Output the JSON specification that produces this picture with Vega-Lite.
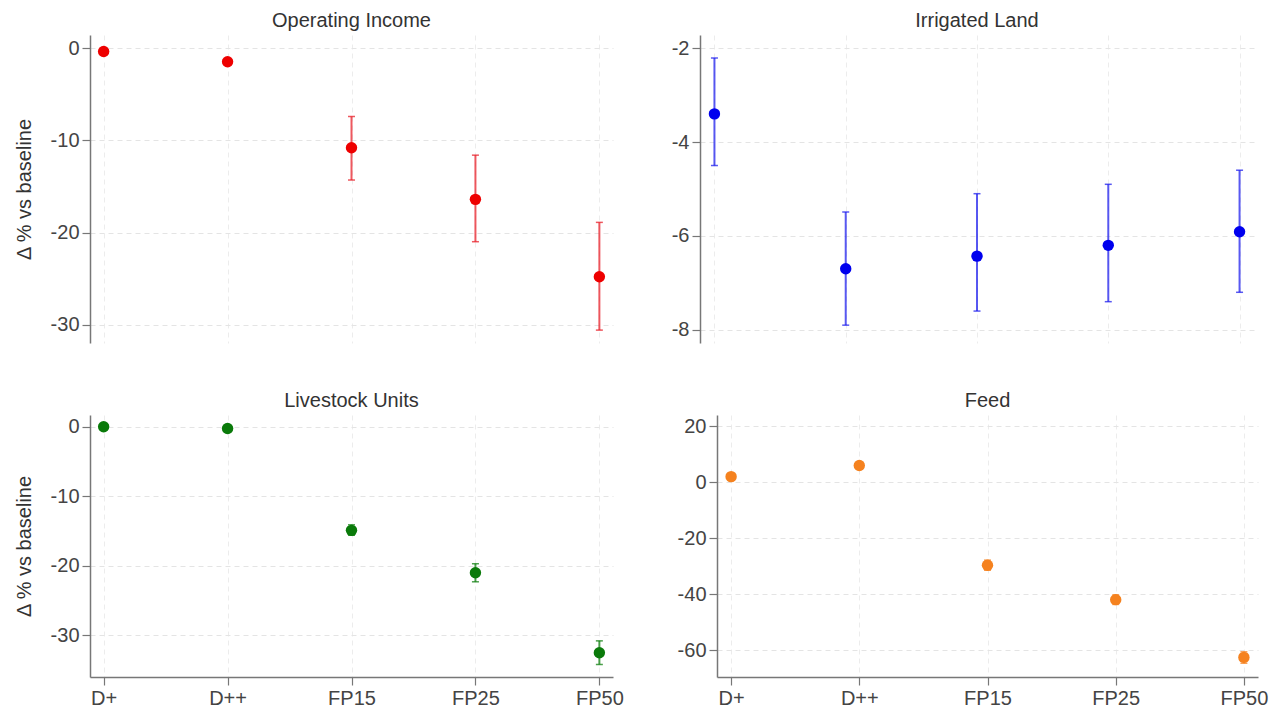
{
  "$schema": "https://vega.github.io/schema/vega-lite/v6.json",
  "padding": {"left": 14, "top": 11, "right": 5, "bottom": 5},
  "background": "white",
  "datasets": {
    "d": [
      {"panel": "Operating Income", "scenario": "D+", "value": -0.35, "lo": -0.45, "hi": -0.25},
      {"panel": "Operating Income", "scenario": "D++", "value": -1.45, "lo": -1.55, "hi": -1.35},
      {"panel": "Operating Income", "scenario": "FP15", "value": -10.8, "lo": -14.3, "hi": -7.4},
      {"panel": "Operating Income", "scenario": "FP25", "value": -16.4, "lo": -21.0, "hi": -11.6},
      {"panel": "Operating Income", "scenario": "FP50", "value": -24.8, "lo": -30.6, "hi": -18.9},
      {"panel": "Irrigated Land", "scenario": "D+", "value": -3.4, "lo": -4.5, "hi": -2.21},
      {"panel": "Irrigated Land", "scenario": "D++", "value": -6.7, "lo": -7.9, "hi": -5.49},
      {"panel": "Irrigated Land", "scenario": "FP15", "value": -6.43, "lo": -7.6, "hi": -5.1},
      {"panel": "Irrigated Land", "scenario": "FP25", "value": -6.2, "lo": -7.4, "hi": -4.9},
      {"panel": "Irrigated Land", "scenario": "FP50", "value": -5.91, "lo": -7.2, "hi": -4.6},
      {"panel": "Livestock Units", "scenario": "D+", "value": 0.0, "lo": -0.3, "hi": 0.3},
      {"panel": "Livestock Units", "scenario": "D++", "value": -0.24, "lo": -0.5, "hi": 0.0},
      {"panel": "Livestock Units", "scenario": "FP15", "value": -14.9, "lo": -15.6, "hi": -14.1},
      {"panel": "Livestock Units", "scenario": "FP25", "value": -21.0, "lo": -22.3, "hi": -19.7},
      {"panel": "Livestock Units", "scenario": "FP50", "value": -32.5, "lo": -34.2, "hi": -30.8},
      {"panel": "Feed", "scenario": "D+", "value": 2.0, "lo": 1.2, "hi": 2.8},
      {"panel": "Feed", "scenario": "D++", "value": 6.0, "lo": 5.0, "hi": 7.0},
      {"panel": "Feed", "scenario": "FP15", "value": -29.6, "lo": -31.4, "hi": -27.8},
      {"panel": "Feed", "scenario": "FP25", "value": -41.9, "lo": -43.6, "hi": -40.2},
      {"panel": "Feed", "scenario": "FP50", "value": -62.5, "lo": -64.6, "hi": -60.5}
    ]
  },
  "vconcat": [
    {
      "spacing": 58,
      "hconcat": [
        {
          "width": 523, "height": 308,
          "title": "Operating Income",
          "data": {"name": "d"},
          "transform": [{"filter": "datum.panel === 'Operating Income'"}],
          "encoding": {
            "x": {"field": "scenario", "type": "ordinal", "sort": ["D+", "D++", "FP15", "FP25", "FP50"], "scale": {"type": "point", "padding": 0.11},
                  "axis": {"title": null, "labels": false, "ticks": false, "domain": false, "grid": true}}
          },
          "layer": [
            {"mark": {"type": "rule", "color": "#e8202a", "opacity": 0.75, "strokeWidth": 2},
             "encoding": {"y": {"field": "lo", "type": "quantitative", "title": "Δ % vs baseline", "scale": {"domain": [-32, 1.45], "nice": false, "zero": false}, "axis": {"values": [0, -10, -20, -30], "titlePadding": 16}}, "y2": {"field": "hi"}}},
            {"mark": {"type": "tick", "orient": "horizontal", "size": 7, "thickness": 1.5, "color": "#e8202a", "opacity": 0.75},
             "encoding": {"y": {"field": "lo", "type": "quantitative", "title": "Δ % vs baseline"}}},
            {"mark": {"type": "tick", "orient": "horizontal", "size": 7, "thickness": 1.5, "color": "#e8202a", "opacity": 0.75},
             "encoding": {"y": {"field": "hi", "type": "quantitative", "title": "Δ % vs baseline"}}},
            {"mark": {"type": "point", "filled": true, "size": 130, "color": "#ee0000", "opacity": 1},
             "encoding": {"y": {"field": "value", "type": "quantitative", "title": "Δ % vs baseline"}}}
          ]
        },
        {
          "width": 554, "height": 308,
          "title": "Irrigated Land",
          "data": {"name": "d"},
          "transform": [{"filter": "datum.panel === 'Irrigated Land'"}],
          "encoding": {
            "x": {"field": "scenario", "type": "ordinal", "sort": ["D+", "D++", "FP15", "FP25", "FP50"], "scale": {"type": "point", "padding": 0.11},
                  "axis": {"title": null, "labels": false, "ticks": false, "domain": false, "grid": true}}
          },
          "layer": [
            {"mark": {"type": "rule", "color": "#2020ee", "opacity": 0.75, "strokeWidth": 2},
             "encoding": {"y": {"field": "lo", "type": "quantitative", "title": null, "scale": {"domain": [-8.28, -1.72], "nice": false, "zero": false}, "axis": {"values": [-2, -4, -6, -8]}}, "y2": {"field": "hi"}}},
            {"mark": {"type": "tick", "orient": "horizontal", "size": 7, "thickness": 1.5, "color": "#2020ee", "opacity": 0.75},
             "encoding": {"y": {"field": "lo", "type": "quantitative", "title": null}}},
            {"mark": {"type": "tick", "orient": "horizontal", "size": 7, "thickness": 1.5, "color": "#2020ee", "opacity": 0.75},
             "encoding": {"y": {"field": "hi", "type": "quantitative", "title": null}}},
            {"mark": {"type": "point", "filled": true, "size": 130, "color": "#0000ee", "opacity": 1},
             "encoding": {"y": {"field": "value", "type": "quantitative", "title": null}}}
          ]
        }
      ]
    },
    {
      "spacing": 53,
      "hconcat": [
        {
          "width": 523, "height": 262,
          "title": "Livestock Units",
          "data": {"name": "d"},
          "transform": [{"filter": "datum.panel === 'Livestock Units'"}],
          "encoding": {
            "x": {"field": "scenario", "type": "ordinal", "sort": ["D+", "D++", "FP15", "FP25", "FP50"], "scale": {"type": "point", "padding": 0.11},
                  "axis": {"title": null, "labelAngle": 0, "grid": true}}
          },
          "layer": [
            {"mark": {"type": "rule", "color": "#108010", "opacity": 0.75, "strokeWidth": 2},
             "encoding": {"y": {"field": "lo", "type": "quantitative", "title": "Δ % vs baseline", "scale": {"domain": [-36, 1.7], "nice": false, "zero": false}, "axis": {"values": [0, -10, -20, -30], "titlePadding": 16}}, "y2": {"field": "hi"}}},
            {"mark": {"type": "tick", "orient": "horizontal", "size": 7, "thickness": 1.5, "color": "#108010", "opacity": 0.75},
             "encoding": {"y": {"field": "lo", "type": "quantitative", "title": "Δ % vs baseline"}}},
            {"mark": {"type": "tick", "orient": "horizontal", "size": 7, "thickness": 1.5, "color": "#108010", "opacity": 0.75},
             "encoding": {"y": {"field": "hi", "type": "quantitative", "title": "Δ % vs baseline"}}},
            {"mark": {"type": "point", "filled": true, "size": 130, "color": "#0a7a0a", "opacity": 1},
             "encoding": {"y": {"field": "value", "type": "quantitative", "title": "Δ % vs baseline"}}}
          ]
        },
        {
          "width": 541, "height": 262,
          "title": "Feed",
          "data": {"name": "d"},
          "transform": [{"filter": "datum.panel === 'Feed'"}],
          "encoding": {
            "x": {"field": "scenario", "type": "ordinal", "sort": ["D+", "D++", "FP15", "FP25", "FP50"], "scale": {"type": "point", "padding": 0.11},
                  "axis": {"title": null, "labelAngle": 0, "grid": true}}
          },
          "layer": [
            {"mark": {"type": "rule", "color": "#f5821f", "opacity": 0.75, "strokeWidth": 2},
             "encoding": {"y": {"field": "lo", "type": "quantitative", "title": null, "scale": {"domain": [-69.5, 24], "nice": false, "zero": false}, "axis": {"values": [20, 0, -20, -40, -60]}}, "y2": {"field": "hi"}}},
            {"mark": {"type": "tick", "orient": "horizontal", "size": 7, "thickness": 1.5, "color": "#f5821f", "opacity": 0.75},
             "encoding": {"y": {"field": "lo", "type": "quantitative", "title": null}}},
            {"mark": {"type": "tick", "orient": "horizontal", "size": 7, "thickness": 1.5, "color": "#f5821f", "opacity": 0.75},
             "encoding": {"y": {"field": "hi", "type": "quantitative", "title": null}}},
            {"mark": {"type": "point", "filled": true, "size": 130, "color": "#f5821f", "opacity": 1},
             "encoding": {"y": {"field": "value", "type": "quantitative", "title": null}}}
          ]
        }
      ]
    }
  ],
  "spacing": 48,
  "config": {
    "font": "Liberation Sans",
    "view": {"stroke": null},
    "title": {"font": "Liberation Sans", "fontSize": 20, "fontWeight": "normal", "color": "#333", "offset": 4},
    "axis": {
      "labelFont": "Liberation Sans", "labelFontSize": 20, "labelColor": "#444",
      "titleFont": "Liberation Sans", "titleFontSize": 20, "titleColor": "#333", "titleFontWeight": "normal",
      "domainColor": "#777", "domainWidth": 1.5, "tickColor": "#777", "tickSize": 8, "tickWidth": 1.2, "labelPadding": 3,
      "gridColor": "#e4e4e4", "gridDash": [5, 4], "gridWidth": 1
    },
    "axisX": {"gridColor": "#ececec"},
    "axisY": {"labelExpr": "replace(datum.label, '−', '-')"}
  }
}
